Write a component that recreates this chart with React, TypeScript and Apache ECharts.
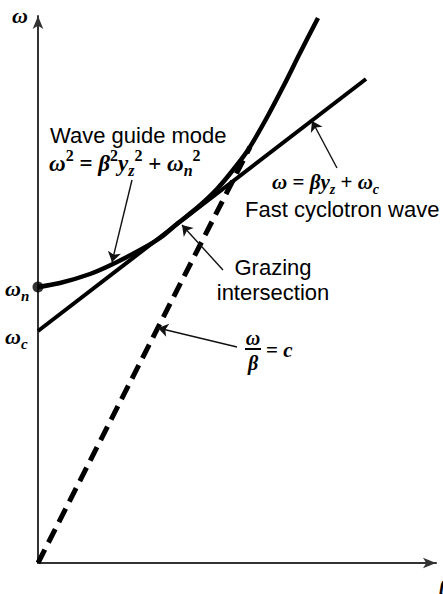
import React, { useEffect, useRef } from "react";
import * as echarts from "echarts";

// Wave guide mode: omega^2 = beta^2 y_z^2 + omega_n^2 (schematic curve samples)
const waveGuideBeta = [0, 0.55, 1.3, 1.875, 2.55, 3.05, 3.5, 4.0, 4.475, 4.875, 5.25, 5.675, 6.125, 6.55, 7.0];
const waveGuideOmega = [6.9, 7.0, 7.225, 7.475, 7.825, 8.125, 8.5, 8.9, 9.35, 9.825, 10.325, 11.05, 11.9, 12.75, 13.625];

// Fast cyclotron wave: omega = beta y_z + omega_c
const cyclotronBeta = [0, 8.2];
const cyclotronOmega = [5.8, 12.1];

// Light line: omega / beta = c
const lightBeta = [0, 5.3];
const lightOmega = [0, 10.4];

const omegaN = 6.9;

// Leader arrows: [tail, head] in (beta, omega)
const leaderTails = [
  [2.35, 9.575],
  [7.475, 9.875],
  [4.625, 7.325],
  [4.975, 5.4],
];
const leaderHeads = [
  [1.85, 7.525],
  [6.85, 11.05],
  [3.6, 8.45],
  [3.0, 5.875],
];

const SERIF = "'Liberation Serif', 'Times New Roman', serif";
const SANS = "'Liberation Sans', Arial, Helvetica, sans-serif";

const zip = (xs: number[], ys: number[]) => xs.map((x, i) => [x, ys[i]]);

// Rich-text styles for inline math: italic symbols, upright operators, raised / lowered indices
const mathRich = (size: number) => {
  const small = Math.round(size * 0.68);
  const lh = size + 8;
  return {
    m: { fontFamily: SERIF, fontStyle: "italic", fontWeight: "bold", fontSize: size, lineHeight: lh, fill: "#000" },
    r: { fontFamily: SERIF, fontStyle: "normal", fontWeight: "bold", fontSize: size, lineHeight: lh, fill: "#000" },
    sup: { fontFamily: SERIF, fontStyle: "normal", fontWeight: "bold", fontSize: small, lineHeight: small + 2, verticalAlign: "top", fill: "#000" },
    sub: { fontFamily: SERIF, fontStyle: "italic", fontWeight: "bold", fontSize: small, lineHeight: small + 2, verticalAlign: "bottom", fill: "#000" },
  };
};

export default function App() {
  const ref = useRef<HTMLDivElement>(null);

  useEffect(() => {
    document.body.style.margin = "0";
    if (!ref.current) return;
    const chart = echarts.init(ref.current, undefined, { renderer: "svg" });

    const axisLine = {
      show: true,
      onZero: false,
      symbol: ["none", "arrow"],
      symbolSize: [8, 13],
      lineStyle: { color: "#333", width: 2 },
    };

    chart.setOption({
      animation: false,
      backgroundColor: "#fff",
      grid: { left: 38, right: 7, top: 16, bottom: 31 },
      xAxis: {
        type: "value",
        min: 0,
        max: 9.95,
        axisLine,
        axisTick: { show: false },
        axisLabel: { show: false },
        splitLine: { show: false },
      },
      yAxis: {
        type: "value",
        min: 0,
        max: 13.675,
        axisLine,
        axisTick: { show: false },
        axisLabel: { show: false },
        splitLine: { show: false },
      },
      series: [
        {
          name: "Light line",
          type: "line",
          data: zip(lightBeta, lightOmega),
          showSymbol: false,
          clip: false,
          lineStyle: { color: "#000", width: 5, type: [15, 8], cap: "butt" },
          z: 3,
        },
        {
          name: "Fast cyclotron wave",
          type: "line",
          data: zip(cyclotronBeta, cyclotronOmega),
          showSymbol: false,
          clip: false,
          lineStyle: { color: "#000", width: 4 },
          z: 4,
        },
        {
          name: "Wave guide mode",
          type: "line",
          data: zip(waveGuideBeta, waveGuideOmega),
          smooth: 0.3,
          showSymbol: false,
          clip: false,
          lineStyle: { color: "#000", width: 4.5 },
          z: 5,
        },
        {
          name: "Cutoff",
          type: "scatter",
          data: [[0, omegaN]],
          symbolSize: 11,
          clip: false,
          itemStyle: { color: "#000" },
          z: 6,
        },
        {
          name: "Leaders",
          type: "lines",
          coordinateSystem: "cartesian2d",
          data: leaderTails.map((t, i) => ({ coords: [t, leaderHeads[i]] })),
          symbol: ["none", "arrow"],
          symbolSize: 10,
          lineStyle: { color: "#111", width: 1.4, opacity: 1 },
          z: 7,
        },
      ],
      graphic: [
        // Axis names
        {
          type: "text",
          x: 20,
          y: 15,
          style: { text: "ω", font: `italic bold 22px ${SERIF}`, fill: "#000", align: "center", verticalAlign: "middle" },
        },
        {
          type: "text",
          x: 439,
          y: 588,
          style: { text: "β", font: `italic bold 20px ${SERIF}`, fill: "#000", align: "left", verticalAlign: "middle" },
        },
        // Intercept labels
        {
          type: "text",
          x: 5,
          y: 288,
          style: { text: "{m|ω}{sub|n}", rich: mathRich(22), align: "left", verticalAlign: "middle" },
        },
        {
          type: "text",
          x: 5,
          y: 336,
          style: { text: "{m|ω}{sub|c}", rich: mathRich(22), align: "left", verticalAlign: "middle" },
        },
        // Wave guide mode
        {
          type: "text",
          x: 50,
          y: 135,
          style: { text: "Wave guide mode", font: `22px ${SANS}`, fill: "#000", align: "left", verticalAlign: "middle" },
        },
        {
          type: "text",
          x: 49,
          y: 163,
          style: {
            text: "{m|ω}{sup|2}{r| = }{m|β}{sup|2}{m|y}{sub|z}{sup|2}{r| + }{m|ω}{sub|n}{sup|2}",
            rich: mathRich(23),
            align: "left",
            verticalAlign: "middle",
          },
        },
        // Fast cyclotron wave
        {
          type: "text",
          x: 272,
          y: 182,
          style: {
            text: "{m|ω}{r| = }{m|βy}{sub|z}{r| + }{m|ω}{sub|c}",
            rich: mathRich(21),
            align: "left",
            verticalAlign: "middle",
          },
        },
        {
          type: "text",
          x: 245,
          y: 209,
          style: { text: "Fast cyclotron wave", font: `22px ${SANS}`, fill: "#000", align: "left", verticalAlign: "middle" },
        },
        // Grazing intersection
        {
          type: "text",
          x: 273,
          y: 267,
          style: { text: "Grazing", font: `22px ${SANS}`, fill: "#000", align: "center", verticalAlign: "middle" },
        },
        {
          type: "text",
          x: 273,
          y: 292,
          style: { text: "intersection", font: `22px ${SANS}`, fill: "#000", align: "center", verticalAlign: "middle" },
        },
        // omega / beta = c
        {
          type: "text",
          x: 253,
          y: 338,
          style: { text: "ω", font: `italic bold 20px ${SERIF}`, fill: "#000", align: "center", verticalAlign: "middle" },
        },
        {
          type: "line",
          shape: { x1: 245, y1: 349, x2: 261, y2: 349 },
          style: { stroke: "#000", lineWidth: 2 },
        },
        {
          type: "text",
          x: 253,
          y: 363,
          style: { text: "β", font: `italic bold 20px ${SERIF}`, fill: "#000", align: "center", verticalAlign: "middle" },
        },
        {
          type: "text",
          x: 266,
          y: 350,
          style: { text: "{r|= }{m|c}", rich: mathRich(21), align: "left", verticalAlign: "middle" },
        },
      ],
    });

    return () => chart.dispose();
  }, []);

  return <div ref={ref} style={{ width: 443, height: 594 }} />;
}
